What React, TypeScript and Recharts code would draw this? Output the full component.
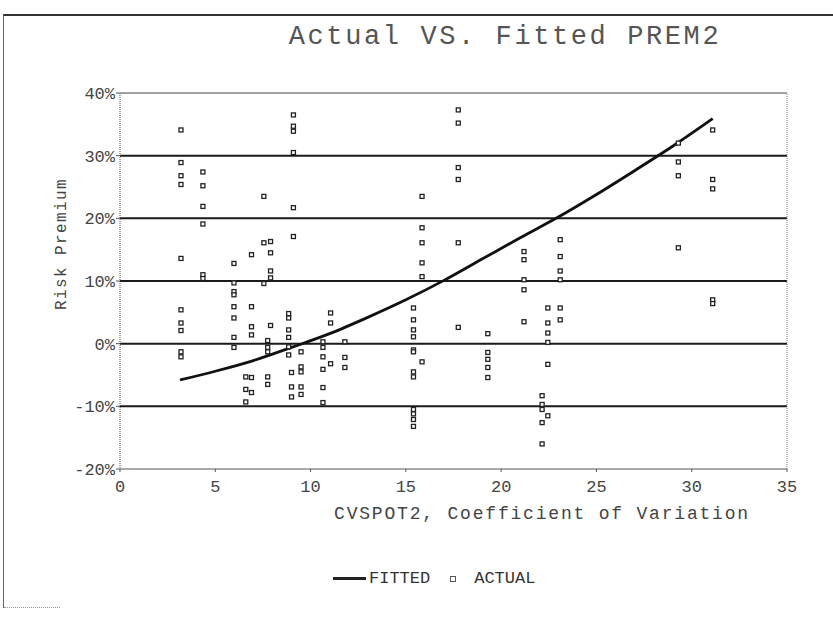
import { ComposedChart, Line, Scatter, XAxis, YAxis, CartesianGrid, ReferenceLine } from "recharts";

// x ticks (CVSPOT2) and y ticks (risk premium, %)
const cvTicks = [0, 5, 10, 15, 20, 25, 30, 35];
const premTicks = [-20, -10, 0, 10, 20, 30, 40];

// fitted curve
const fittedCv = [3.15, 5, 7, 9, 11, 13, 15, 17, 19, 21, 23, 25, 27, 29, 31.1];
const fittedPrem = [-5.8, -4.4, -2.7, -0.6, 1.6, 4.2, 7.0, 10.1, 13.5, 16.9, 20.2, 23.8, 27.6, 31.5, 35.9];

// actual observations, grouped by their CV column
const actualCv = [
  3.2, 4.35, 5.98, 6.6, 6.9, 7.55, 7.9, 7.75, 8.85, 9.0, 9.1, 9.5, 10.65, 11.05, 11.8,
  15.4, 15.85, 17.75, 19.3, 21.2, 22.15, 22.45, 23.1, 29.3, 31.1,
];
const actualPrem = [
  [34.1, 28.9, 26.8, 25.4, 13.6, 5.4, 3.3, 2.1, -1.3, -2.1],
  [27.4, 25.2, 21.9, 19.1, 11.0, 10.4],
  [12.8, 9.7, 8.3, 7.8, 5.9, 4.1, 1.0, -0.6],
  [-5.3, -7.3, -9.3],
  [14.2, 5.9, 2.7, 1.4, -5.4, -7.8],
  [23.5, 16.1, 9.6],
  [16.3, 14.5, 11.6, 10.5, 2.9],
  [0.5, -0.6, -1.3, -5.3, -6.5],
  [4.8, 4.1, 2.2, 1.0, -0.5, -1.8],
  [-4.6, -6.9, -8.5],
  [36.5, 34.7, 33.9, 30.5, 21.7, 17.1],
  [-1.3, -3.7, -4.5, -6.9, -8.1],
  [0.3, -0.6, -2.1, -4.1, -7.0, -9.4],
  [4.9, 3.3, -3.2],
  [0.3, -2.2, -3.8],
  [5.7, 3.8, 2.2, 1.1, -1.0, -1.3, -4.5, -5.3, -10.5, -11.2, -12.1, -13.2],
  [23.5, 18.5, 16.1, 12.9, 10.7, -2.9],
  [37.3, 35.2, 28.1, 26.2, 16.1, 2.6],
  [1.6, -1.4, -2.5, -3.8, -5.4],
  [14.7, 13.4, 10.2, 8.6, 3.5],
  [-8.3, -9.7, -10.5, -12.6, -16.0],
  [5.7, 3.3, 1.7, 0.2, -3.3, -11.5],
  [16.6, 13.9, 11.6, 10.2, 5.7, 3.8],
  [32.0, 29.0, 26.8, 15.3],
  [34.1, 26.2, 24.7, 7.0, 6.4],
];

const fittedData = fittedCv.map((cv, i) => ({ cv, prem: fittedPrem[i] }));
const actualData = actualCv.flatMap((cv, i) => actualPrem[i].map((prem) => ({ cv, prem })));

const mono = "'Liberation Mono', 'DejaVu Sans Mono', monospace";

const SquareDot = (props: any) => {
  const { cx, cy } = props;
  if (cx == null || cy == null) return null;
  return <rect x={cx - 2} y={cy - 2} width={4} height={4} fill="#fff" stroke="#222" strokeWidth={1.3} />;
};

export default function App() {
  return (
    <div style={{ position: "absolute", left: 0, top: 0, width: 833, height: 623, background: "#fff", overflow: "hidden" }}>
      <div
        style={{
          position: "absolute",
          left: 3,
          top: 14,
          width: 830,
          height: 592,
          borderTop: "2px solid #333",
          borderLeft: "1px solid #666",
        }}
      />
      <div style={{ position: "absolute", left: 4, top: 607, width: 56, borderTop: "1px dotted #999" }} />
      <div
        style={{
          position: "absolute",
          left: 0,
          width: 1010,
          top: 22,
          textAlign: "center",
          fontFamily: mono,
          fontSize: 27,
          letterSpacing: 2.6,
          color: "#555",
        }}
      >
        Actual VS. Fitted PREM2
      </div>
      <div
        style={{
          position: "absolute",
          left: 62,
          top: 244,
          transform: "translate(-50%, -50%) rotate(-90deg)",
          whiteSpace: "nowrap",
          fontFamily: mono,
          fontSize: 16,
          letterSpacing: 1.4,
          color: "#444",
        }}
      >
        Risk Premium
      </div>
      <div
        style={{
          position: "absolute",
          left: 0,
          width: 1084,
          top: 504,
          textAlign: "center",
          fontFamily: mono,
          fontSize: 18,
          letterSpacing: 1.8,
          color: "#444",
        }}
      >
        CVSPOT2, Coefficient of Variation
      </div>
      <div
        style={{
          position: "absolute",
          left: 333,
          top: 569,
          display: "flex",
          alignItems: "center",
          fontFamily: mono,
          fontSize: 17,
          color: "#333",
        }}
      >
        <span style={{ display: "inline-block", width: 33, height: 3, background: "#222", marginRight: 3 }} />
        <span>FITTED</span>
        <span style={{ display: "inline-block", width: 4, height: 4, border: "1px solid #555", margin: "0 18px 0 20px" }} />
        <span>ACTUAL</span>
      </div>
      <div style={{ position: "absolute", left: 0, top: 0 }}>
        <ComposedChart width={833} height={623} margin={{ top: 93, right: 46, bottom: 124, left: 70 }}>
          <CartesianGrid
            vertical={false}
            horizontalValues={[-10, 0, 10, 20, 30]}
            stroke="#1a1a1a"
            strokeWidth={2}
            strokeDasharray=""
          />
          <ReferenceLine y={40} stroke="#444" strokeWidth={1} />
          <ReferenceLine x={35} stroke="#777" strokeWidth={1} strokeDasharray="1 1" />
          <XAxis
            type="number"
            dataKey="cv"
            domain={[0, 35]}
            ticks={cvTicks}
            allowDataOverflow
            height={30}
            axisLine={{ stroke: "#555", strokeWidth: 1 }}
            tickLine={{ stroke: "#555" }}
            tickSize={3}
            tickMargin={8}
            tick={{ fontFamily: mono, fontSize: 17, fill: "#444" }}
          />
          <YAxis
            type="number"
            dataKey="prem"
            domain={[-20, 40]}
            ticks={premTicks}
            allowDataOverflow
            width={50}
            axisLine={{ stroke: "#555", strokeWidth: 1, strokeDasharray: "1 1" }}
            tickLine={{ stroke: "#555" }}
            tickSize={4}
            tickMargin={1}
            tickFormatter={(v: number) => `${v}%`}
            tick={{ fontFamily: mono, fontSize: 17, fill: "#444" }}
          />
          <Scatter name="ACTUAL" data={actualData} dataKey="prem" shape={SquareDot} isAnimationActive={false} />
          <Line
            name="FITTED"
            data={fittedData}
            dataKey="prem"
            type="monotone"
            stroke="#111"
            strokeWidth={2.8}
            dot={false}
            activeDot={false}
            isAnimationActive={false}
          />
        </ComposedChart>
      </div>
    </div>
  );
}
